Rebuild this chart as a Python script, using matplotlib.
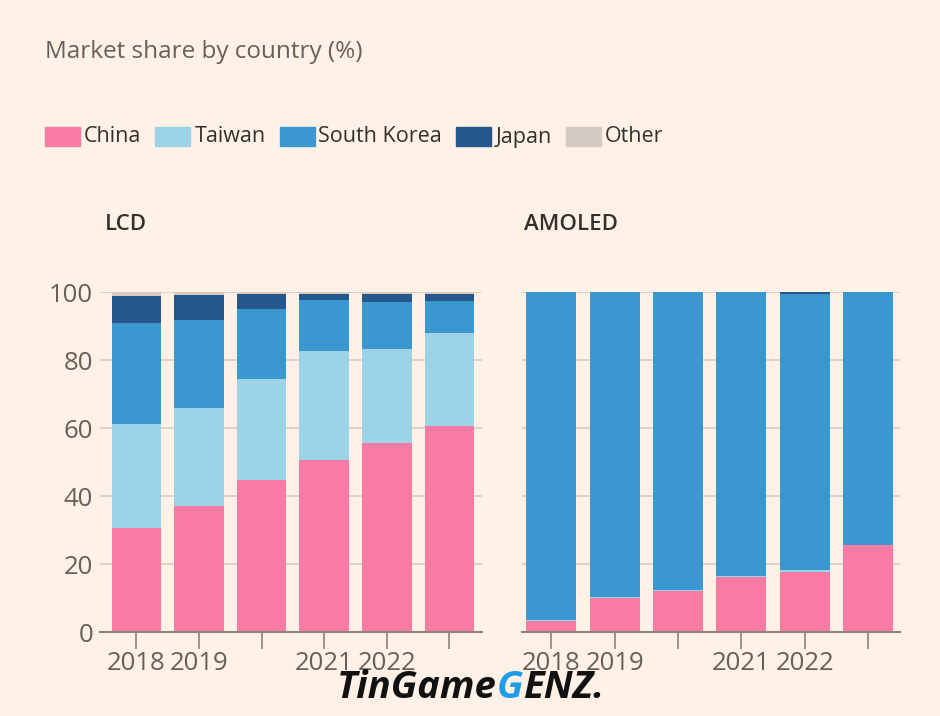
import matplotlib
matplotlib.use("Agg")
import matplotlib.pyplot as plt
import numpy as np

plt.rcParams["font.family"] = ["Open Sans", "DejaVu Sans"]

BG = "#FFF1E5"
GRID = "#D9CEC4"
TXT = "#66605C"

years = ["2018", "2019", "2020", "2021", "2022", "2023"]
tick_labels = ["2018", "2019", "", "2021", "2022", ""]
countries = ["China", "Taiwan", "South Korea", "Japan", "Other"]
colors = ["#F77BA3", "#9CD3E6", "#3A97D0", "#26578C", "#D6CBC3"]

# LCD shares (%)
lcd_china = [30.5, 37.0, 44.7, 50.6, 55.5, 60.5]
lcd_taiwan = [30.7, 28.9, 29.7, 32.1, 27.8, 27.3]
lcd_korea = [29.6, 25.9, 20.6, 14.9, 13.7, 9.6]
lcd_japan = [8.0, 7.3, 4.4, 1.8, 2.4, 2.0]
lcd_other = [1.2, 0.9, 0.6, 0.6, 0.6, 0.6]

# AMOLED shares (%)
amo_china = [3.2, 9.9, 12.2, 16.1, 17.7, 25.5]
amo_taiwan = [0.4, 0.4, 0.3, 0.4, 0.4, 0.2]
amo_korea = [96.4, 89.7, 87.5, 83.5, 81.4, 74.3]
amo_japan = [0.0, 0.0, 0.0, 0.0, 0.5, 0.0]
amo_other = [0.0, 0.0, 0.0, 0.0, 0.0, 0.0]

fig = plt.figure(figsize=(9.4, 7.16), dpi=100, facecolor=BG)

fig.text(45 / 940, 1 - 52 / 716, "Market share by country (%)", fontsize=17.5,
         color=TXT, va="center", ha="left")

# legend row
lx = 45
for name, c in zip(countries, colors):
    fig.patches.append(plt.Rectangle((lx / 940, 1 - 146 / 716), 35 / 940, 19 / 716,
                                     transform=fig.transFigure, color=c))
    t = fig.text((lx + 39) / 940, 1 - 137 / 716, name, fontsize=15.5, color="#33302E",
                 va="center", ha="left")
    fig.canvas.draw()
    bb = t.get_window_extent()
    lx = bb.x1 + 14


def panel(ax, title, series, xl, show_y):
    ax.set_facecolor(BG)
    x = np.arange(len(years))
    bottom = np.zeros(len(years))
    for vals, c in zip(series, colors):
        ax.bar(x, vals, bottom=bottom, width=0.79, color=c, zorder=3)
        bottom += np.array(vals)
    ax.set_ylim(0, 100)
    ax.set_xlim(*xl)
    ax.set_yticks(range(0, 101, 20))
    ax.yaxis.grid(True, color=GRID, lw=1.2, zorder=0)
    for s in ["top", "right", "left"]:
        ax.spines[s].set_visible(False)
    ax.spines["bottom"].set_color("#8A847F")
    ax.spines["bottom"].set_linewidth(1.5)
    ax.spines["bottom"].set_zorder(4)
    ax.set_xticks(x)
    ax.set_xticklabels(tick_labels)
    ax.tick_params(axis="x", length=12, width=1.2, color="#8A847F", labelsize=18.5,
                   labelcolor=TXT, pad=2)
    ax.tick_params(axis="y", length=0, labelsize=18.5, labelcolor=TXT, pad=5)
    if not show_y:
        ax.set_yticklabels([])
    return ax.text(0, 1.2, title, transform=ax.transAxes, fontsize=16,
                   fontweight="semibold", color="#33302E", ha="left", va="center")


ax1 = fig.add_axes([100 / 940, 1 - 632 / 716, 382 / 940, 340 / 716])
ax2 = fig.add_axes([522 / 940, 1 - 632 / 716, 378 / 940, 340 / 716])

t1 = panel(ax1, "LCD", [lcd_china, lcd_taiwan, lcd_korea, lcd_japan, lcd_other], (-0.58, 5.52), True)
t1.set_position((5 / 382, 1.2))
t2 = panel(ax2, "AMOLED", [amo_china, amo_taiwan, amo_korea, amo_japan, amo_other], (-0.46, 5.5), False)
t2.set_position((2 / 378, 1.2))

# watermark
wm = fig.text(337 / 940, 1 - 688 / 716, "TinGame", fontsize=27.5, fontweight="bold",
              fontstyle="italic", color="#111111", va="center", ha="left")
fig.canvas.draw()
wx = wm.get_window_extent().x1
g = fig.text(wx / 940, 1 - 688 / 716, "G", fontsize=27.5, fontweight="bold",
             fontstyle="italic", color="#1E9BE9", va="center", ha="left")
fig.canvas.draw()
wx = g.get_window_extent().x1
fig.text(wx / 940, 1 - 688 / 716, "ENZ.", fontsize=27.5, fontweight="bold",
         fontstyle="italic", color="#111111", va="center", ha="left")

fig.savefig("out.png", dpi=100, facecolor=BG)
